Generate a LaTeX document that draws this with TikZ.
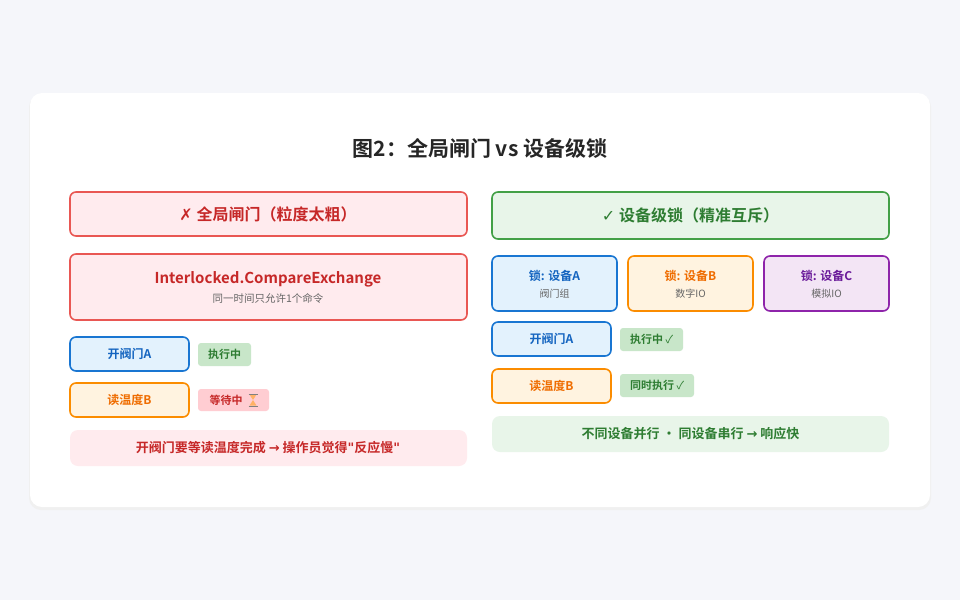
\documentclass[tikz,border=0pt]{standalone}
\usepackage{fontspec}
\setmainfont{Noto Sans CJK SC}[BoldFont={Noto Sans CJK SC Bold}]
\newfontfamily\symf{DejaVu Sans}
\begin{document}
\begin{tikzpicture}[x=1pt,y=-1pt,
  box/.style={draw,line width=1.6pt,rounded corners=6pt},
  t/.style={font=\bfseries\fontsize{#1}{#1}\selectfont},
  t/.default=12]
\definecolor{bg}{HTML}{F5F6FA}
\definecolor{rd}{HTML}{E53935}\definecolor{rdf}{HTML}{FFEBEE}\definecolor{rdt}{HTML}{C62828}
\definecolor{gn}{HTML}{43A047}\definecolor{gnf}{HTML}{E8F5E9}\definecolor{gnt}{HTML}{2E7D32}\definecolor{gntag}{HTML}{C8E6C9}
\definecolor{bl}{HTML}{1976D2}\definecolor{blf}{HTML}{E3F2FD}\definecolor{blt}{HTML}{1565C0}
\definecolor{or}{HTML}{FB8C00}\definecolor{orf}{HTML}{FFF3E0}\definecolor{ort}{HTML}{EF6C00}
\definecolor{pu}{HTML}{8E24AA}\definecolor{puf}{HTML}{F3E5F5}\definecolor{put}{HTML}{6A1B9A}
\definecolor{pk}{HTML}{FFCDD2}\definecolor{gy}{HTML}{666666}
\fill[bg] (0,0) rectangle (960,600);
\useasboundingbox (0,0) rectangle (960,600);
\fill[black!6,rounded corners=12pt] (29,95) rectangle (931,510);
\fill[white,rounded corners=12pt] (30,93) rectangle (930,507);
\node[t=21,text=black!85] (title) at (480,148) {图2：全局闸门 vs 设备级锁};
% left
\draw[box,draw=rd!85,fill=rdf] (70,192) rectangle (467,236);
\node[t=16,text=rdt] (lh) at (268,214) {{\symf ✗} 全局闸门（粒度太粗）};
\draw[box,draw=rd!85,fill=rdf] (70,254) rectangle (467,320);
\node[t=15,text=rdt] (ic) at (268,279) {Interlocked.CompareExchange};
\node[font=\fontsize{10.5}{10.5}\selectfont,text=gy] (ics) at (268,298) {同一时间只允许1个命令};
\draw[box,draw=bl,fill=blf] (70,337) rectangle (189,371);
\node[t,text=blt] (la) at (129.5,354) {开阀门A};
\fill[gntag,rounded corners=3pt] (198,343) rectangle (251,366);
\node[t=11,text=gnt] (lat) at (224.5,354.5) {执行中};
\draw[box,draw=or,fill=orf] (70,383) rectangle (189,417);
\node[t,text=ort] (lb) at (129.5,400) {读温度B};
\fill[pk,rounded corners=3pt] (198,389) rectangle (269,411);
\node[t=11,text=rdt] (lbt) at (226,400) {等待中};
% hourglass
\coordinate (hg) at (253,400);
\fill[orange!60] ([shift={(-3.5,-5.5)}]hg) -- ([shift={(3.5,-5.5)}]hg) -- ([shift={(0,0)}]hg) -- cycle;
\fill[orange!60] ([shift={(-3.5,5.5)}]hg) -- ([shift={(3.5,5.5)}]hg) -- ([shift={(0,0)}]hg) -- cycle;
\draw[gray,line width=0.8pt] ([shift={(-4.5,-6)}]hg) -- ([shift={(4.5,-6)}]hg) ([shift={(-4.5,6)}]hg) -- ([shift={(4.5,6)}]hg);
\fill[rdf,rounded corners=8pt] (70,430) rectangle (467,466);
\node[t=13,text=rdt] (ln) at (268,448) {开阀门要等读温度完成 {\symf →} 操作员觉得{\symf\bfseries "}反应慢{\symf\bfseries "}};
% right
\draw[box,draw=gn,fill=gnf] (492,192) rectangle (889,239);
\node[t=16,text=gnt] (rh) at (690.5,215.5) {{\symf ✓} 设备级锁（精准互斥）};
\draw[box,draw=bl,fill=blf] (492,256) rectangle (617,311);
\node[t,text=blt] (ka) at (554.5,276) {锁: 设备A};
\node[font=\fontsize{10}{10}\selectfont,text=gy] (kas) at (554.5,294) {阀门组};
\draw[box,draw=or,fill=orf] (628,256) rectangle (753,311);
\node[t,text=ort] (kb) at (690.5,276) {锁: 设备B};
\node[font=\fontsize{10}{10}\selectfont,text=gy] (kbs) at (690.5,294) {数字IO};
\draw[box,draw=pu,fill=puf] (764,256) rectangle (889,311);
\node[t,text=put] (kc) at (826.5,276) {锁: 设备C};
\node[font=\fontsize{10}{10}\selectfont,text=gy] (kcs) at (826.5,294) {模拟IO};
\draw[box,draw=bl,fill=blf] (492,322) rectangle (611,356);
\node[t,text=blt] (ra) at (551.5,339) {开阀门A};
\fill[gntag,rounded corners=3pt] (620,328) rectangle (683,351);
\node[t=11,text=gnt] (rat) at (651.5,339.5) {执行中 {\symf\normalfont ✓}};
\draw[box,draw=or,fill=orf] (492,369) rectangle (611,403);
\node[t,text=ort] (rb) at (551.5,386) {读温度B};
\fill[gntag,rounded corners=3pt] (620,374) rectangle (694,397);
\node[t=11,text=gnt] (rbt) at (657,385.5) {同时执行 {\symf\normalfont ✓}};
\fill[gnf,rounded corners=8pt] (492,416) rectangle (889,452);
\node[t=13,text=gnt] (rn) at (690.5,434) {不同设备并行 • 同设备串行 {\symf →} 响应快};
\end{tikzpicture}
\end{document}
